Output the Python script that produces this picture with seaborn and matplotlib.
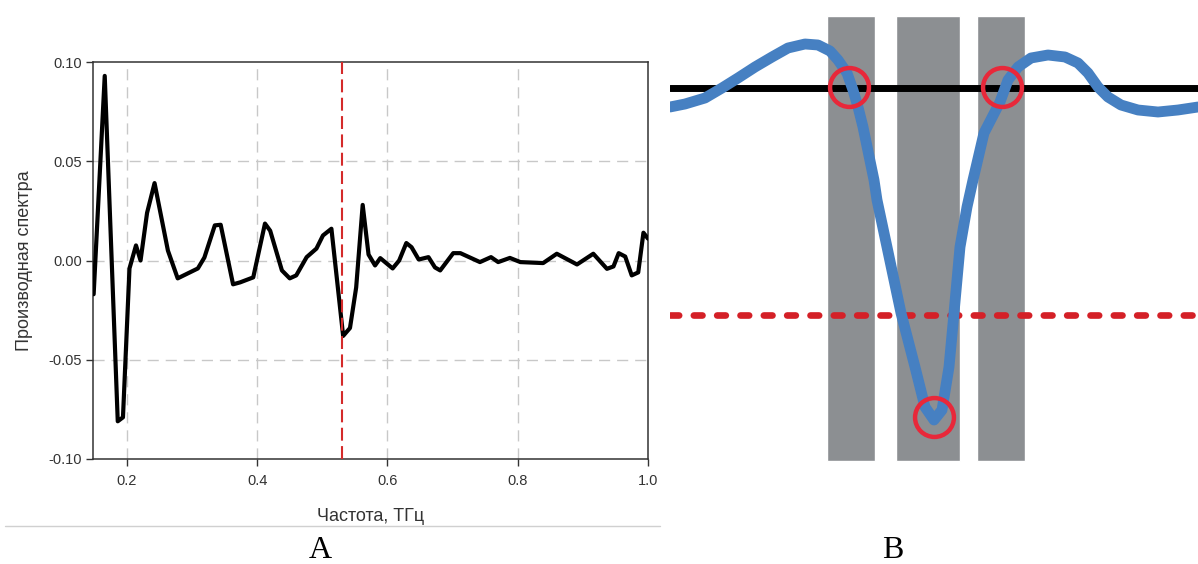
import matplotlib
matplotlib.use("Agg")
import matplotlib.pyplot as plt
import seaborn as sns
import numpy as np

# panel A: derivative of the spectrum
freq = [0.149, 0.166, 0.186, 0.194, 0.204, 0.214, 0.221, 0.231, 0.2425, 0.263,
        0.278, 0.309, 0.319, 0.335, 0.344, 0.363, 0.374, 0.394, 0.412, 0.420,
        0.438, 0.450, 0.460, 0.476, 0.491, 0.501, 0.514, 0.532, 0.5425, 0.552,
        0.562, 0.571, 0.581, 0.589, 0.608, 0.618, 0.629, 0.637, 0.648, 0.663,
        0.673, 0.681, 0.701, 0.712, 0.742, 0.759, 0.770, 0.788, 0.804, 0.839,
        0.860, 0.891, 0.916, 0.937, 0.947, 0.955, 0.965, 0.975, 0.985, 0.993, 1.0]
deriv = [-0.017, 0.093, -0.081, -0.079, -0.004, 0.0076, 0.0, 0.024, 0.039, 0.005,
         -0.009, -0.004, 0.0015, 0.0177, 0.018, -0.012, -0.011, -0.0085, 0.0186, 0.015,
         -0.005, -0.009, -0.0075, 0.0017, 0.006, 0.0126, 0.016, -0.038, -0.034, -0.0136,
         0.028, 0.003, -0.0025, 0.0012, -0.004, 0.0, 0.0088, 0.0067, 0.0005, 0.0017,
         -0.0035, -0.005, 0.0037, 0.0037, -0.0008, 0.0017, -0.0008, 0.0013, -0.0008, -0.0013,
         0.0034, -0.002, 0.0034, -0.0042, -0.003, 0.0037, 0.002, -0.0075, -0.006, 0.014, 0.011]
marker_freq = 0.53
a_xticks = [0.2, 0.4, 0.6, 0.8, 1.0]
a_yticks = [-0.10, -0.05, 0.00, 0.05, 0.10]

# panel B: schematic (arbitrary units)
sch_x = [0.00, 0.15, 0.35, 0.52, 0.68, 0.85, 1.02, 1.18, 1.35, 1.48,
         1.60, 1.68, 1.77, 1.83, 1.88, 1.93, 2.04, 2.07, 2.17, 2.31,
         2.45, 2.55, 2.64, 2.72, 2.79, 2.84, 2.90, 2.97, 3.03, 3.14,
         3.30, 3.38, 3.48, 3.61, 3.78, 3.95, 4.08, 4.18, 4.28, 4.38,
         4.51, 4.68, 4.88, 5.08, 5.28]
sch_y = [-0.19, -0.16, -0.10, 0.00, 0.10, 0.21, 0.31, 0.40, 0.44, 0.43,
         0.37, 0.28, 0.15, -0.02, -0.19, -0.39, -0.92, -1.12, -1.59, -2.25,
         -2.79, -3.19, -3.32, -3.22, -2.79, -2.25, -1.59, -1.19, -0.92, -0.45,
         -0.14, 0.08, 0.21, 0.30, 0.33, 0.31, 0.25, 0.15, 0.01, -0.09,
         -0.17, -0.22, -0.24, -0.22, -0.19]
band_left = [1.567, 2.26, 3.07]
band_right = [2.05, 2.90, 3.55]
band_top = 0.72
band_bottom = -3.73
zero_level = 0.0
threshold = -2.27
hit_x = [1.79, 3.32, 2.635]
hit_y = [0.01, 0.01, -3.29]

sns.set_theme(style="white")
plt.rcParams['font.family'] = ['Liberation Sans', 'DejaVu Sans']

W, H = 1198, 564
fig = plt.figure(figsize=(W / 100, H / 100), dpi=100)

# ---- A ----
axA = fig.add_axes([93 / W, 1 - 459 / H, (648 - 93) / W, (459 - 62) / H])
for v in a_xticks[:-1]:
    axA.axvline(v, color='#c8c8c8', lw=1, ls=(0, (8, 5)), zorder=0)
for v in a_yticks[1:-1]:
    axA.axhline(v, color='#c8c8c8', lw=1, ls=(0, (8, 5)), zorder=0)
sns.lineplot(x=freq, y=deriv, ax=axA, color='black', lw=3, zorder=3)
axA.axvline(marker_freq, color='#d42a2a', lw=1.5, ls=(0, (6.2, 2.6)), zorder=4)
axA.set_xlim(0.148, 1.0)
axA.set_ylim(-0.10, 0.10)
axA.set_xticks(a_xticks)
axA.set_xticklabels([f"{v:.1f}" for v in a_xticks])
axA.set_yticks(a_yticks)
axA.set_yticklabels([f"{v:.2f}" for v in a_yticks])
axA.tick_params(axis='both', which='both', direction='out', length=5, width=1,
                color='#333333', labelsize=10.5, labelcolor='#333333',
                left=True, bottom=True)
axA.tick_params(axis='x', pad=6)
axA.tick_params(axis='y', pad=3)
for s in axA.spines.values():
    s.set_color('#333333')
    s.set_linewidth(1.1)
axA.set_xlabel('Частота, ТГц', fontsize=13, color='#333333', labelpad=14)
axA.set_ylabel('Производная спектра', fontsize=13, color='#333333', labelpad=11)

# ---- B ----
axB = fig.add_axes([670 / W, 1 - 470 / H, (W - 670) / W, 470 / H])
axB.bar(band_left, band_bottom - band_top,
        width=np.array(band_right) - np.array(band_left),
        bottom=band_top, align='edge', color='#8c8f92', zorder=1)
axB.axhline(zero_level, color='black', lw=5, zorder=2)
axB.axhline(threshold, color='#d42027', lw=4.8, ls=(0, (1.3, 2.2)),
            dash_capstyle='round', zorder=2)
sns.lineplot(x=sch_x, y=sch_y, ax=axB, color='#4680c2', lw=7.8, zorder=3,
             sort=False)
for ln in axB.lines:
    ln.set_solid_capstyle('round')
    ln.set_solid_joinstyle('round')
axB.plot(hit_x, hit_y, ls='none', marker='o', ms=28, mfc='none',
         mec='#e8283a', mew=3.2, zorder=4)
axB.set_xlim(0, (W - 670) / 100)
axB.set_ylim(-3.82, 0.88)
axB.axis('off')

# separator and panel letters
fig.add_artist(plt.Line2D([5 / W, 660 / W], [1 - 526 / H, 1 - 526 / H],
                          color='#d0d0d0', lw=1))
fig.text(320 / W, 1 - 550 / H, 'A', fontsize=23, family='Liberation Serif',
         ha='center', va='center', color='black')
fig.text(893 / W, 1 - 550 / H, 'B', fontsize=23, family='Liberation Serif',
         ha='center', va='center', color='black')

fig.savefig('out.png', dpi=100)
